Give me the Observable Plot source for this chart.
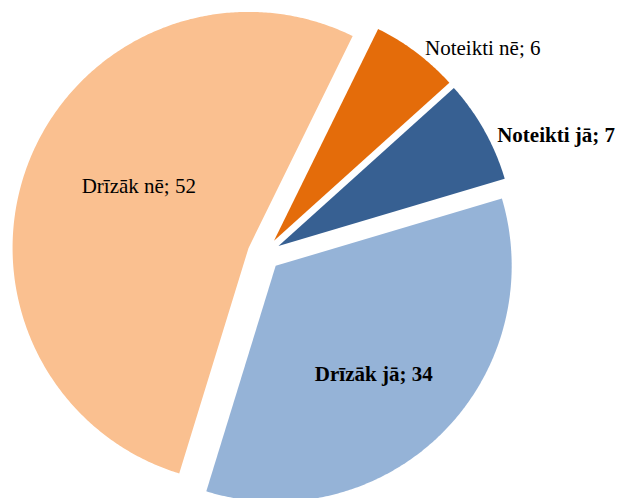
<!DOCTYPE html>
<html>
<head>
<meta charset="utf-8">
<script src="https://cdn.jsdelivr.net/npm/d3@7"></script>
<script src="https://cdn.jsdelivr.net/npm/@observablehq/plot@0.6"></script>
<style>
  html, body { margin: 0; padding: 0; background: #fff; }
  #chart svg { display: block; }
</style>
</head>
<body>
<div id="chart"></div>
<script>
// ---- data ----
const categories = ["Noteikti jā", "Drīzāk jā", "Drīzāk nē", "Noteikti nē"];
const values = [7, 34, 52, 6];

// ---- styles / layout ----
const colors = ["#376092", "#95B3D7", "#FAC090", "#E46C0A"];
const boldLabel = [true, true, false, false];
const W = 619, H = 498;
const CX = 263.5, CY = 253.5, R = 236, EXPLODE = 16.6;
const START_DEG = 48;
// label placement relative to each slice's apex: [angle deg clockwise from 12 o'clock, distance px]
const labelPolar = [[68.2, 299], [137.8, 146], [299.4, 126], [47.3, 284]];

const rad = d => d * Math.PI / 180;
const table = categories.map((c, i) => ({name: c, value: values[i], color: colors[i], bold: boldLabel[i], lp: labelPolar[i]}));

const pie = d3.pie().sort(null).value(d => d.value)
  .startAngle(rad(START_DEG)).endAngle(rad(START_DEG + 360));
const arcs = pie(table);

const polyPts = [];
const labels = [];
arcs.forEach(a => {
  const mid = (a.startAngle + a.endAngle) / 2;
  const ox = CX + EXPLODE * Math.sin(mid);
  const oy = CY - EXPLODE * Math.cos(mid);
  const n = Math.max(8, Math.ceil((a.endAngle - a.startAngle) / rad(0.5)));
  polyPts.push({name: a.data.name, x: ox, y: oy});
  for (let k = 0; k <= n; k++) {
    const t = a.startAngle + (a.endAngle - a.startAngle) * k / n;
    polyPts.push({name: a.data.name, x: ox + R * Math.sin(t), y: oy - R * Math.cos(t)});
  }
  polyPts.push({name: a.data.name, x: ox, y: oy});
  const [la, lr] = a.data.lp;
  labels.push({
    text: `${a.data.name}; ${a.data.value}`,
    bold: a.data.bold,
    x: ox + lr * Math.sin(rad(la)),
    y: oy - lr * Math.cos(rad(la))
  });
});

const chart = Plot.plot({
  width: W,
  height: H,
  margin: 0,
  x: {domain: [0, W], range: [0, W], axis: null},
  y: {domain: [0, H], range: [0, H], axis: null},
  color: {domain: categories, range: colors},
  marks: [
    Plot.line(polyPts, {x: "x", y: "y", z: "name", fill: "name", stroke: null, curve: "linear"}),
    Plot.text(labels.filter(d => !d.bold), {x: "x", y: "y", text: "text", fontFamily: "Liberation Serif", fontSize: 21, fill: "#000"}),
    Plot.text(labels.filter(d => d.bold), {x: "x", y: "y", text: "text", fontFamily: "Liberation Serif", fontSize: 21, fontWeight: "bold", fill: "#000"})
  ]
});
document.getElementById("chart").appendChild(chart);
</script>
</body>
</html>
